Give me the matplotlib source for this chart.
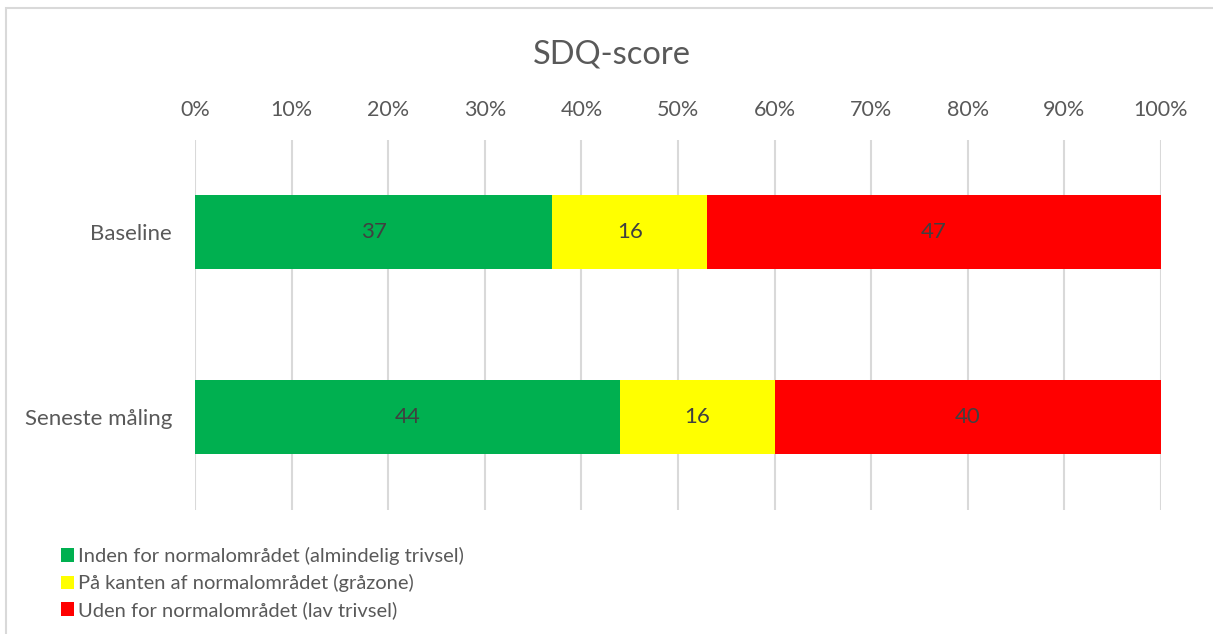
#!/usr/bin/env python3
import matplotlib
matplotlib.use('Agg')
import matplotlib.pyplot as plt
from matplotlib.patches import Patch, Rectangle

categories = ['Baseline', 'Seneste måling']
inden = [37, 44]
kanten = [16, 16]
uden = [47, 40]
series_labels = ['Inden for normalområdet (almindelig trivsel)',
                 'På kanten af normalområdet (gråzone)',
                 'Uden for normalområdet (lav trivsel)']
colours = ['#00B050', '#FFFF00', '#FF0000']
ticks = [0, 10, 20, 30, 40, 50, 60, 70, 80, 90, 100]

plt.rcParams['font.family'] = ['Lato', 'DejaVu Sans']
txt = '#595959'

W, H = 1213, 634
fig = plt.figure(figsize=(W / 100, H / 100), dpi=100)
ax = fig.add_axes([195 / W, 1 - 509.5 / H, (1161 - 195) / W, 370 / H])

# chart frame
fig.patches.append(Rectangle((6 / W, -0.1), 1.2, 1 - 8 / H + 0.1, transform=fig.transFigure,
                             fill=False, edgecolor='#D9D9D9', linewidth=1.5))

y = list(range(len(categories)))
left = [0] * len(categories)
for vals, col in zip([inden, kanten, uden], colours):
    ax.barh(y, vals, left=left, height=0.4, color=col, zorder=2)
    for yi, v, l in zip(y, vals, left):
        ax.text(l + v / 2, yi, str(v), ha='center', va='center', fontsize=16, color='#404040', zorder=3)
    left = [a + b for a, b in zip(left, vals)]

ax.set_xlim(0, 100)
ax.set_ylim(1.5, -0.5)
ax.set_xticks(ticks)
ax.set_xticklabels([f'{t}%' for t in ticks], fontsize=15.5, color=txt)
ax.xaxis.tick_top()
ax.tick_params(axis='x', length=0, pad=14)
ax.set_yticks(y)
ax.set_yticklabels(categories, fontsize=16, color=txt)
ax.tick_params(axis='y', length=0, pad=16.5)
ax.grid(axis='x', color='#D9D9D9', linewidth=1.5, zorder=0)
for s in ax.spines.values():
    s.set_visible(False)

fig.text(612 / W, 1 - 54 / H, 'SDQ-score', ha='center', va='center', fontsize=23.5, color=txt)

handles = [Patch(facecolor=c, edgecolor='none') for c in colours]
fig.legend(handles, series_labels, loc='upper left', bbox_to_anchor=(43 / W, 1 - 529 / H),
           frameon=False, fontsize=14.5, handlelength=0.65, handleheight=0.65,
           handletextpad=0.2, labelspacing=0.45, labelcolor=txt)

fig.savefig('out.png', dpi=100, facecolor='white')
